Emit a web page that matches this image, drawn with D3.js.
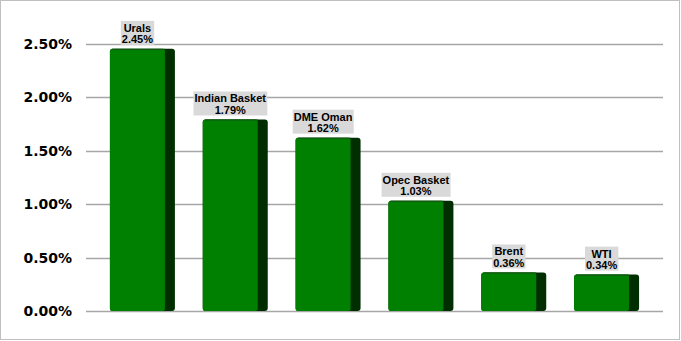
<!DOCTYPE html>
<html><head><meta charset="utf-8">
<script src="https://cdn.jsdelivr.net/npm/d3@7"></script>
<style>html,body{margin:0;padding:0;background:#fff;}</style>
</head><body>
<svg id="c" width="681" height="341"></svg>
<script>
const categories = ["Urals","Indian Basket","DME Oman","Opec Basket","Brent","WTI"];
const values = [2.45,1.79,1.62,1.03,0.36,0.34];
const yTicks = [0,0.5,1,1.5,2,2.5];

const svg = d3.select("#c");
svg.append("rect").attr("x",0.5).attr("y",0.5).attr("width",679).attr("height",339)
  .attr("fill","#fff").attr("stroke","#bfbfbf");

const y = d3.scaleLinear().domain([0,2.5]).range([311,43.5]);
const x = d3.scaleBand().domain(categories).range([96,653]).paddingInner(0.3).paddingOuter(0.15);

// gridlines
svg.append("g").selectAll("line").data(yTicks).join("line")
  .attr("x1",86).attr("x2",663)
  .attr("y1",d=>Math.round(y(d))+0.5).attr("y2",d=>Math.round(y(d))+0.5)
  .attr("stroke","#a6a6a6").attr("stroke-width",1.5);

// axis labels
const yAxis = d3.axisLeft(y).tickValues(yTicks).tickFormat(d=>d.toFixed(2)+"%").tickSize(0).tickPadding(0);
const ga = svg.append("g").attr("transform","translate(72,0)").call(yAxis);
ga.select(".domain").remove();
ga.selectAll("text").attr("font-family","DejaVu Sans").attr("font-weight","bold")
  .attr("font-size",14).attr("fill","#000").attr("dy","0.35em");

const side = 10;
const bars = svg.append("g").selectAll("g").data(categories).join("g");
bars.append("rect")
  .attr("x",d=>x(d)).attr("y",(d,i)=>y(values[i]))
  .attr("width",x.bandwidth()).attr("height",(d,i)=>y(0)-y(values[i]))
  .attr("rx",3).attr("fill","#002e00");
bars.append("rect")
  .attr("x",d=>x(d)).attr("y",(d,i)=>y(values[i]))
  .attr("width",x.bandwidth()-side).attr("height",(d,i)=>y(0)-y(values[i]))
  .attr("rx",2.5).attr("fill","#008000");
bars.append("line")
  .attr("x1",d=>x(d)+2).attr("x2",d=>x(d)+x.bandwidth()-side)
  .attr("y1",(d,i)=>y(values[i])+0.5).attr("y2",(d,i)=>y(values[i])+0.5)
  .attr("stroke","#1a4d1a").attr("stroke-width",1);

// labels
const lab = svg.append("g").selectAll("g").data(categories).join("g");
lab.each(function(d,i){
  const g = d3.select(this);
  const cx = x(d) + (x.bandwidth()-side)/2;
  const bottom = y(values[i]) - 4;
  const t = g.append("text").attr("text-anchor","middle")
    .attr("font-family","Liberation Sans, Arial").attr("font-weight","bold")
    .attr("font-size",11).attr("fill","#000");
  t.append("tspan").attr("x",cx).attr("y",bottom-13).text(d);
  t.append("tspan").attr("x",cx).attr("y",bottom-1.5).text(values[i].toFixed(2)+"%");
  const bb = t.node().getBBox();
  g.insert("rect","text").attr("x",bb.x-1).attr("y",bottom-24).attr("width",bb.width+2).attr("height",24)
    .attr("fill","#d9d9d9");
});
</script>
</body></html>
